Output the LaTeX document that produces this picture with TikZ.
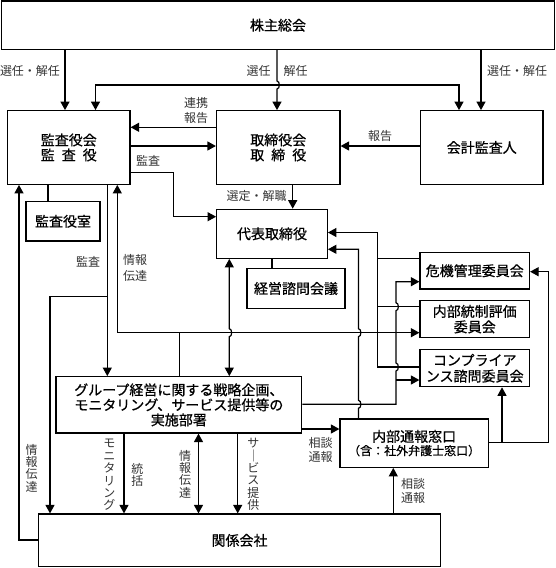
\documentclass[tikz,border=0pt]{standalone}
\usepackage{fontspec}
\setmainfont{Noto Sans CJK JP}
\newfontfamily\boxfont[FakeBold=0.7]{Noto Sans CJK JP}
\usetikzlibrary{arrows.meta}
\begin{document}
\begin{tikzpicture}[x=1pt,y=-1pt,
  box/.style={draw,line width=1.2pt,inner sep=0pt,align=center,font=\boxfont\fontsize{14}{15}\selectfont},
  lab/.style={inner sep=0pt,align=center,text=black!80,font=\fontsize{12}{15}\selectfont},
  vlab/.style={inner sep=0pt,align=center,text=black!80,font=\fontsize{12}{12.4}\selectfont},
  conn/.style={line width=1.2pt},
  arr/.style={conn,-{Triangle[length=8.5pt,width=9pt]}},
  arrb/.style={conn,{Triangle[length=8.5pt,width=9pt]}-{Triangle[length=8.5pt,width=9pt]}}]
\useasboundingbox (0,0) rectangle (556,568);
% boxes
\node[box,minimum width=553pt,minimum height=48.5pt] (kabu) at (278,25.25) {株主総会};
\node[box,minimum width=122.5pt,minimum height=73.6pt] (kansa) at (68.75,147.5) {監査役会\\監\hspace{0.5em}査\hspace{0.5em}役};
\node[box,minimum width=123.5pt,minimum height=73.6pt] (tori) at (278.25,147.5) {取締役会\\取\hspace{0.5em}締\hspace{0.5em}役};
\node[box,minimum width=122.5pt,minimum height=73.6pt] (kaikei) at (481.75,147.5) {会計監査人};
\node[box,minimum width=74pt,minimum height=39.3pt] (shitsu) at (63,221.3) {監査役室};
\node[box,minimum width=110.6pt,minimum height=49pt] (daihyo) at (272,233.8) {代表取締役};
\node[box,minimum width=98pt,minimum height=39.6pt] (keiei) at (296,288.5) {経営諮問会議};
\node[box,minimum width=109.5pt,minimum height=36.5pt] (kiki) at (474.75,270.75) {危機管理委員会};
\node[box,minimum width=109.5pt,minimum height=36.7pt,font=\boxfont\fontsize{14}{15.5}\selectfont] (naibu) at (474.75,319.15) {内部統制評価\\委員会};
\node[box,minimum width=109.5pt,minimum height=37pt,font=\boxfont\fontsize{14}{16}\selectfont] (comp) at (474.75,368.2) {コンプライア\\ンス諮問委員会};
\node[box,minimum width=245.7pt,minimum height=56.3pt] (group) at (178.85,404.85) {グループ経営に関する戦略企画、\\モニタリング、サービス提供等の\\実施部署};
\node[box,minimum width=148.3pt,minimum height=48.3pt] (tsuho) at (414.15,443.15) {内部通報窓口\\[-1.5pt]{\fontsize{12}{14}\selectfont （含：社外弁護士窓口）}};
\node[box,minimum width=402.5pt,minimum height=52.7pt] (kankei) at (239.55,540.35) {関係会社};
% connectors
\draw[arr] (kabu.south -| 65,0) -- (kansa.north -| 65,0);
\draw[arr] (kabu.south -| 481,0) -- (kaikei.north -| 481,0);
\draw[arr] (kabu.south -| 277,0) -- (277,81) to[out=0,in=0] (277,89) -- (tori.north -| 277,0);
\draw[arrb] (kansa.north -| 95.5,0) -- (95.5,85) -- (459,85) -- (kaikei.north -| 459,0);
\draw[arr] (tori.west |- 0,127.3) -- (kansa.east |- 0,127.3);
\draw[arr] (kansa.east |- 0,146) -- (tori.west |- 0,146);
\draw[arr] (kaikei.west |- 0,146) -- (tori.east |- 0,146);
\draw[arr] (kansa.east |- 0,172.7) -- (173.3,172.7) -- (173.3,216.7) -- (daihyo.west |- 0,216.7);
\draw[arr] (tori.south -| 292.7,0) -- (daihyo.north -| 292.7,0);
\draw[conn] (daihyo.south -| 272,0) -- (keiei.north -| 272,0);
\draw[conn] (kansa.south -| 48,0) -- (shitsu.north -| 48,0);
\draw[arr] (kankei.west |- 0,540) -- (19,540) -- (kansa.south -| 19,0);
\draw[arr] (kansa.south -| 107.3,0) -- (group.north -| 107.3,0);
\draw[arr] (107.3,296.7) -- (50,296.7) -- (kankei.north -| 50,0);
\draw[arr] (group.north -| 179.3,0) -- (179.3,332.7) -- (117.3,332.7) -- (kansa.south -| 117.3,0);
\draw[arr] (179.3,332.7) -- (naibu.west |- 0,332.7);
\draw[arrb] (daihyo.south -| 229.3,0) -- (229.3,328.7) to[out=0,in=0] (229.3,336.7) -- (group.north -| 229.3,0);
\draw[arr] (comp.west |- 0,367) -- (377.7,367) -- (377.7,232.5) -- (daihyo.east |- 0,232.5);
\draw[conn] (377.7,258.3) -- (kiki.west |- 0,258.3);
\draw[conn] (377.7,306.7) -- (naibu.west |- 0,306.7);
\draw[arr] (tsuho.north -| 358.5,0) -- (358.5,408.3) to[out=0,in=0] (358.5,400.3) -- (358.5,336.7) to[out=0,in=0] (358.5,328.7) -- (358.5,249.3) -- (daihyo.east |- 0,249.3);
\draw[arr] (group.east |- 0,404.3) -- (396,404.3) -- (396,371) to[out=0,in=0] (396,363) -- (396,310.7) to[out=0,in=0] (396,302.7) -- (396,281.7) -- (kiki.west |- 0,281.7);
\draw[arr] (396,380) -- (comp.west |- 0,380);
\draw[arr] (group.east |- 0,429) -- (tsuho.west |- 0,429);
\draw[arr] (group.south -| 124,0) -- (kankei.north -| 124,0);
\draw[arrb] (group.south -| 198.5,0) -- (kankei.north -| 198.5,0);
\draw[arr] (group.south -| 237.7,0) -- (kankei.north -| 237.7,0);
\draw[arr] (kankei.north -| 393.3,0) -- (tsuho.south -| 393.3,0);
\draw[arr] (tsuho.east |- 0,442.5) -- (548.7,442.5) -- (548.7,271.7) -- (kiki.east |- 0,271.7);
\draw[arr] (502,442.5) -- (comp.south -| 502,0);
% labels
\node[lab] (l1) at (30,71) {選任・解任};
\node[lab] (l2) at (258.5,71) {選任};
\node[lab] (l3) at (295.5,71) {解任};
\node[lab] (l4) at (517,71) {選任・解任};
\node[lab] (l5) at (196,110) {連携\\報告};
\node[lab] (l6) at (380,136) {報告};
\node[lab] (l7) at (148,161) {監査};
\node[lab] (l8) at (256.7,196) {選定・解職};
\node[lab] (l9) at (88,261.7) {監査};
\node[lab,font=\fontsize{12}{15.5}\selectfont] (l10) at (135,268) {情報\\伝達};
\node[lab,font=\fontsize{12}{13.5}\selectfont] (l11) at (320.7,449.7) {相談\\通報};
\node[lab,font=\fontsize{12}{13.5}\selectfont] (l12) at (413,491) {相談\\通報};
\node[vlab] (l13) at (31.7,468) {情\\報\\伝\\達};
\node[vlab] (l14) at (109.3,475) {モ\\ニ\\タ\\リ\\ン\\グ};
\node[vlab] (l15) at (137.3,475) {統\\括};
\node[vlab] (l16) at (185,474) {情\\報\\伝\\達};
\node[vlab] (l17) at (253.3,474.5) {サ\\｜\\ビ\\ス\\提\\供};
\end{tikzpicture}
\end{document}
